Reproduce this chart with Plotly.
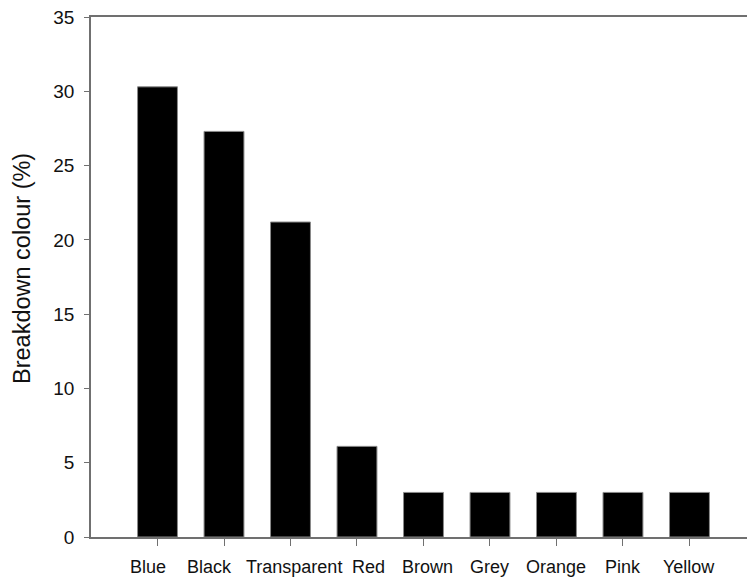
import plotly.graph_objects as go

# Breakdown of colours (%)
colours = ["Blue", "Black", "Transparent", "Red", "Brown", "Grey", "Orange", "Pink", "Yellow"]
percent = [30.3, 27.3, 21.2, 6.1, 3.0, 3.0, 3.0, 3.0, 3.0]
y_ticks = [0, 5, 10, 15, 20, 25, 30, 35]

# horizontal nudges (px) so the crowded category labels do not collide
label_nudge = {"Blue": -10, "Black": -15, "Transparent": 4, "Red": 12, "Brown": 4}

AXIS = "#707070"
TEXT = "#111111"
FONT = "Liberation Sans, Arial, sans-serif"

fig = go.Figure(
    go.Bar(
        x=list(range(len(colours))),
        y=percent,
        marker=dict(color="black", line=dict(color="#8a8a8a", width=1)),
        width=0.6,
    )
)

fig.update_layout(
    width=747,
    height=581,
    margin=dict(l=91, r=0, t=17, b=44),
    plot_bgcolor="white",
    paper_bgcolor="white",
    showlegend=False,
    font=dict(family=FONT, size=18, color=TEXT),
)

fig.update_xaxes(
    range=[-1, 8.865],
    tickmode="array",
    tickvals=list(range(len(colours))),
    showticklabels=False,
    ticks="outside",
    ticklen=7,
    tickwidth=1.2,
    tickcolor=AXIS,
    showline=True,
    linecolor=AXIS,
    linewidth=1.5,
    mirror=True,
    showgrid=False,
    zeroline=False,
)

fig.update_yaxes(
    range=[0, 35],
    tickmode="array",
    tickvals=y_ticks,
    ticktext=[str(v) for v in y_ticks],
    ticks="outside",
    ticklen=5,
    tickwidth=1.2,
    tickcolor=AXIS,
    ticklabelstandoff=6,
    showline=True,
    linecolor=AXIS,
    linewidth=1.5,
    showgrid=False,
    zeroline=False,
    tickfont=dict(family=FONT, size=19, color=TEXT),
)

# category labels under the bars
for i, name in enumerate(colours):
    fig.add_annotation(
        x=i, xref="x", y=0, yref="paper",
        text=name, showarrow=False,
        yanchor="middle", yshift=-30,
        xshift=label_nudge.get(name, 0),
        font=dict(family=FONT, size=18, color=TEXT),
    )

# y-axis title
fig.add_annotation(
    x=0, xref="paper", y=0.5, yref="paper",
    text="Breakdown colour (%)", showarrow=False,
    textangle=-90, xanchor="center", yanchor="middle",
    xshift=-69, yshift=8,
    font=dict(family=FONT, size=23.5, color=TEXT),
)

fig.write_html("out.html")
